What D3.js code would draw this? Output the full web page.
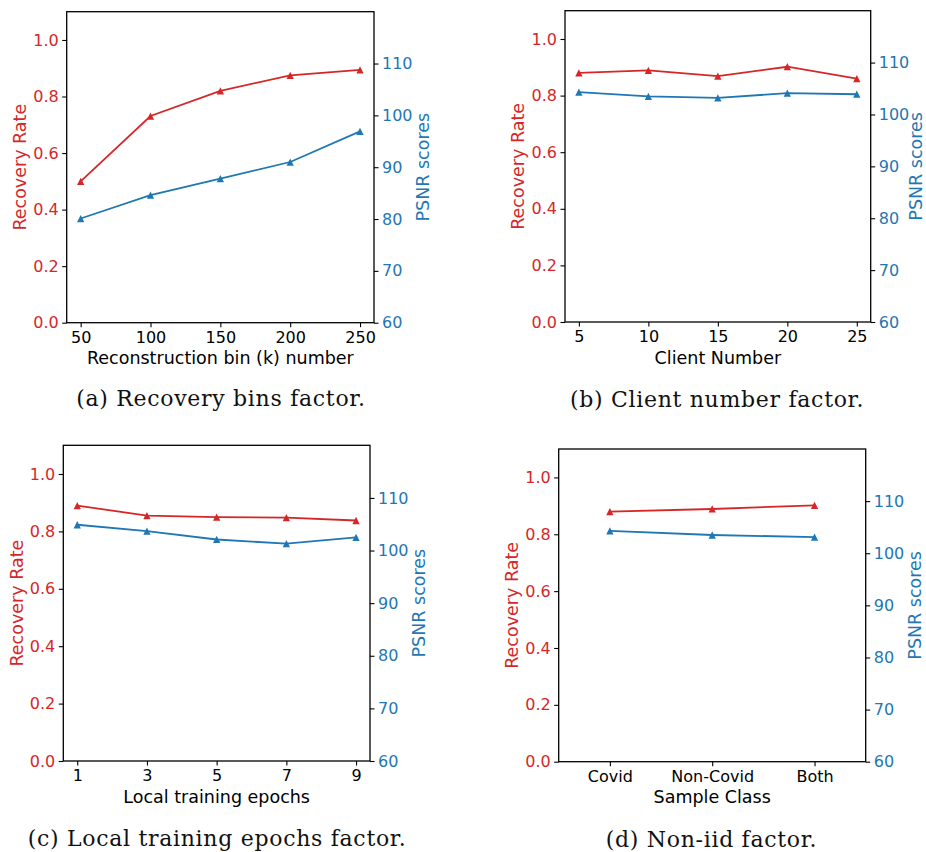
<!DOCTYPE html>
<html>
<head>
<meta charset="utf-8">
<script src="https://cdn.jsdelivr.net/npm/d3@7"></script>
<style>
  body { margin: 0; background: #fff; }
  .tick text { font-family: "DejaVu Sans", sans-serif; font-size: 16px; }
  .axlabel { font-family: "DejaVu Sans", sans-serif; font-size: 17.5px; }
  .caption { font-family: "DejaVu Serif", serif; font-size: 22px; letter-spacing: 0.7px; fill: #111; }
</style>
</head>
<body>
<script>
var w = 926;
var h = 852;
var red = "#d62728";
var blue = "#1f77b4";

// (a) reconstruction bins
var binsX = [50, 100, 150, 200, 250];
var binsRecovery = [0.5, 0.731, 0.82, 0.875, 0.894];
var binsPsnr = [80.1, 84.6, 87.8, 91.0, 96.9];

// (b) client number
var clientsX = [5, 10, 15, 20, 25];
var clientsRecovery = [0.88, 0.889, 0.869, 0.902, 0.86];
var clientsPsnr = [104.3, 103.5, 103.2, 104.1, 103.9];

// (c) local epochs
var epochsX = [1, 3, 5, 7, 9];
var epochsRecovery = [0.89, 0.855, 0.85, 0.848, 0.838];
var epochsPsnr = [104.9, 103.7, 102.1, 101.3, 102.5];

// (d) non-iid
var classes = ["Covid", "Non-Covid", "Both"];
var classRecovery = [0.88, 0.889, 0.902];
var classPsnr = [104.3, 103.5, 103.1];

var recoveryTicks = [0, 0.2, 0.4, 0.6, 0.8, 1.0];
var psnrTicks = [60, 70, 80, 90, 100, 110];

var panels = [
  {x0: 66.7, x1: 374, y0: 11.7, y1: 322.7, xs: binsX, rec: binsRecovery, psnr: binsPsnr,
   xlabel: "Reconstruction bin (k) number", caption: "(a) Recovery bins factor.", cx: 221, cy: 406},
  {x0: 565, x1: 870.7, y0: 10.7, y1: 322, xs: clientsX, rec: clientsRecovery, psnr: clientsPsnr,
   xlabel: "Client Number", caption: "(b) Client number factor.", cx: 717, cy: 407},
  {x0: 63.3, x1: 370, y0: 445.3, y1: 761, xs: epochsX, rec: epochsRecovery, psnr: epochsPsnr,
   xlabel: "Local training epochs", caption: "(c) Local training epochs factor.", cx: 217, cy: 846},
  {x0: 558.7, x1: 865.7, y0: 449, y1: 761.7, xs: classes, rec: classRecovery, psnr: classPsnr,
   xlabel: "Sample Class", caption: "(d) Non-iid factor.", cx: 711.5, cy: 847, categorical: true}
];

// matplotlib style "^" marker
var triUp = {
  draw: function(ctx, size) {
    var r = Math.sqrt(size) / 2;
    ctx.moveTo(0, -r);
    ctx.lineTo(r, r);
    ctx.lineTo(-r, r);
    ctx.closePath();
  }
};

var svg = d3.select("body")
  .append("svg")
  .attr("width", w)
  .attr("height", h);

svg.append("rect").attr("width", w).attr("height", h).attr("fill", "#fff");

panels.forEach(function(p) {
  var xScale;
  if (p.categorical) {
    xScale = d3.scalePoint().domain(p.xs).range([p.x0, p.x1]).padding(0.5);
  } else {
    var ext = d3.extent(p.xs);
    var m = (ext[1] - ext[0]) * 0.05;
    xScale = d3.scaleLinear().domain([ext[0] - m, ext[1] + m]).range([p.x0, p.x1]);
  }
  var yLeft = d3.scaleLinear().domain([0, 1.1]).range([p.y1, p.y0]);
  var yRight = d3.scaleLinear().domain([60, 120]).range([p.y1, p.y0]);

  var g = svg.append("g");

  // axes
  var xAxis = d3.axisBottom(xScale).tickSize(4.5).tickPadding(4.5).tickSizeOuter(0);
  if (!p.categorical) xAxis.tickValues(p.xs).tickFormat(d3.format("d"));
  g.append("g")
    .attr("transform", "translate(0," + p.y1 + ")")
    .call(xAxis)
    .call(function(s) { s.select(".domain").remove(); })
    .selectAll("text").attr("fill", "#000");

  g.append("g")
    .attr("transform", "translate(" + p.x0 + ",0)")
    .call(d3.axisLeft(yLeft).tickValues(recoveryTicks).tickFormat(d3.format(".1f"))
      .tickSize(4.5).tickPadding(3.5).tickSizeOuter(0))
    .call(function(s) { s.select(".domain").remove(); })
    .selectAll("text").attr("fill", red);

  g.append("g")
    .attr("transform", "translate(" + p.x1 + ",0)")
    .call(d3.axisRight(yRight).tickValues(psnrTicks).tickFormat(d3.format("d"))
      .tickSize(4.5).tickPadding(3.5).tickSizeOuter(0))
    .call(function(s) { s.select(".domain").remove(); })
    .selectAll("text").attr("fill", blue);

  g.selectAll(".tick line").attr("stroke", "#000").attr("stroke-width", 1.1);

  // frame
  g.append("rect")
    .attr("x", p.x0).attr("y", p.y0)
    .attr("width", p.x1 - p.x0).attr("height", p.y1 - p.y0)
    .attr("fill", "none").attr("stroke", "#000").attr("stroke-width", 1.3);

  // series
  var series = [
    {vals: p.rec, y: yLeft, color: red},
    {vals: p.psnr, y: yRight, color: blue}
  ];
  series.forEach(function(s) {
    var pts = p.xs.map(function(x, i) { return [xScale(x), s.y(s.vals[i])]; });
    g.append("path")
      .datum(pts)
      .attr("d", d3.line())
      .attr("fill", "none")
      .attr("stroke", s.color)
      .attr("stroke-width", 1.8);
    g.selectAll(null)
      .data(pts)
      .enter()
      .append("path")
      .attr("transform", function(d) { return "translate(" + d[0] + "," + d[1] + ")"; })
      .attr("d", d3.symbol(triUp, 53))
      .attr("fill", s.color);
  });

  // labels
  g.append("text")
    .attr("class", "axlabel")
    .attr("x", (p.x0 + p.x1) / 2)
    .attr("y", p.y1 + 41.5)
    .attr("text-anchor", "middle")
    .attr("fill", "#000")
    .text(p.xlabel);

  g.append("text")
    .attr("class", "axlabel")
    .attr("transform", "translate(" + (p.x0 - 46.7) + "," + ((p.y0 + p.y1) / 2) + ") rotate(-90)")
    .attr("text-anchor", "middle")
    .attr("dominant-baseline", "central")
    .attr("fill", red)
    .text("Recovery Rate");

  // keep the right label inside the page
  var rx = Math.min(p.x1 + 49, w - 10.5);
  g.append("text")
    .attr("class", "axlabel")
    .attr("transform", "translate(" + rx + "," + ((p.y0 + p.y1) / 2) + ") rotate(-90)")
    .attr("text-anchor", "middle")
    .attr("dominant-baseline", "central")
    .attr("fill", blue)
    .text("PSNR scores");

  svg.append("text")
    .attr("class", "caption")
    .attr("x", p.cx)
    .attr("y", p.cy)
    .attr("text-anchor", "middle")
    .text(p.caption);
});
</script>
</body>
</html>
